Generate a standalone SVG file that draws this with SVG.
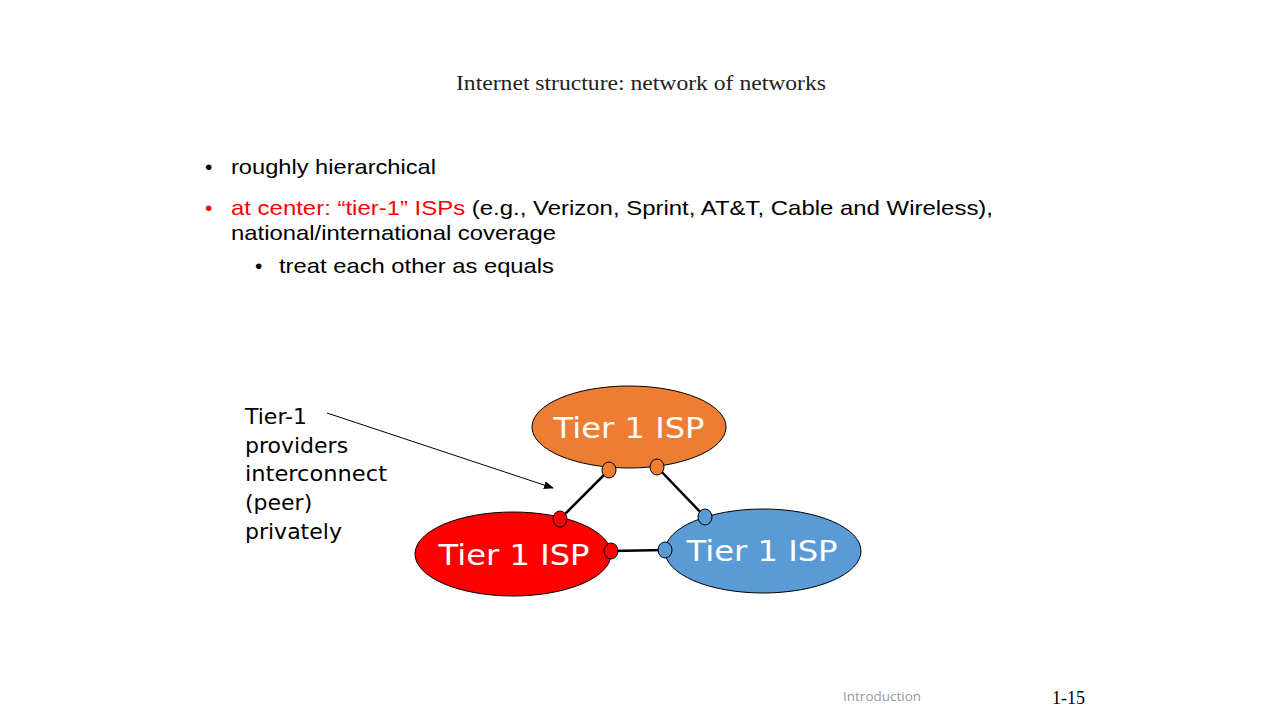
<svg xmlns="http://www.w3.org/2000/svg" width="1280" height="720" viewBox="0 0 1280 720">
<style>
.t{font-family:"Liberation Sans",Arial,sans-serif;font-size:21px;fill:#000}
.isp{font-family:"DejaVu Sans",sans-serif;font-size:29px;fill:#fff;text-anchor:middle}
.lbl{font-family:"DejaVu Sans",sans-serif;font-size:22px;fill:#000}
.ln{stroke:#000;stroke-width:2.5;fill:none}
</style>
<defs>
<marker id="ah" markerWidth="10" markerHeight="8" refX="9" refY="4" orient="auto" markerUnits="userSpaceOnUse">
<path d="M0,0 L10,4 L0,8 z" fill="#000"/>
</marker>
</defs>
<rect width="1280" height="720" fill="#fff"/>
<text x="456" y="90" textLength="370" lengthAdjust="spacingAndGlyphs" style="font-family:'Liberation Serif',serif;font-size:20px;fill:#222">Internet structure: network of networks</text>
<text class="t" x="205" y="174">•</text><text class="t" x="231" y="174" textLength="205" lengthAdjust="spacingAndGlyphs">roughly hierarchical</text>
<text class="t" x="205" y="215" style="fill:#f00">•</text>
<text class="t" x="231" y="215" textLength="762" lengthAdjust="spacingAndGlyphs"><tspan style="fill:#f00">at center: “tier-1” ISPs</tspan> (e.g., Verizon, Sprint, AT&amp;T, Cable and Wireless),</text>
<text class="t" x="231" y="240" textLength="325" lengthAdjust="spacingAndGlyphs">national/international  coverage</text>
<text class="t" x="255" y="273">•</text><text class="t" x="279" y="273" textLength="275" lengthAdjust="spacingAndGlyphs">treat each other as equals</text>
<g id="connectors">
<line class="ln" x1="609" y1="470" x2="560" y2="519"/>
<line class="ln" x1="657" y1="467" x2="705" y2="517"/>
<line class="ln" x1="611" y1="551" x2="665" y2="550"/>
<line x1="327" y1="413" x2="553" y2="488" stroke="#000" stroke-width="1" marker-end="url(#ah)"/>
</g>
<g id="isp-orange">
<ellipse cx="629" cy="427" rx="97" ry="41" fill="#ED7D31" stroke="#000" stroke-width="1"/>
<text class="isp" x="629" y="438" textLength="151" lengthAdjust="spacingAndGlyphs">Tier 1 ISP</text>
<ellipse cx="609" cy="470" rx="7" ry="8" fill="#ED7D31" stroke="#000" stroke-width="1"/>
<ellipse cx="657" cy="467" rx="7" ry="8" fill="#ED7D31" stroke="#000" stroke-width="1"/>
</g>
<g id="isp-red">
<ellipse cx="513" cy="554" rx="98" ry="42" fill="#f00" stroke="#000" stroke-width="1"/>
<text class="isp" x="514" y="565" textLength="151" lengthAdjust="spacingAndGlyphs">Tier 1 ISP</text>
<ellipse cx="560" cy="519" rx="7" ry="8" fill="#f00" stroke="#000" stroke-width="1"/>
<ellipse cx="611" cy="551" rx="7" ry="8" fill="#f00" stroke="#000" stroke-width="1"/>
</g>
<g id="isp-blue">
<ellipse cx="763" cy="551" rx="98" ry="42" fill="#5B9BD5" stroke="#000" stroke-width="1"/>
<text class="isp" x="762" y="561" textLength="151" lengthAdjust="spacingAndGlyphs">Tier 1 ISP</text>
<ellipse cx="705" cy="517" rx="7" ry="8" fill="#5B9BD5" stroke="#000" stroke-width="1"/>
<ellipse cx="665" cy="550" rx="7" ry="8" fill="#5B9BD5" stroke="#000" stroke-width="1"/>
</g>
<g id="label">
<text class="lbl" x="245" y="424">Tier-1</text>
<text class="lbl" x="245" y="453">providers</text>
<text class="lbl" x="245" y="481" textLength="142" lengthAdjust="spacingAndGlyphs">interconnect</text>
<text class="lbl" x="245" y="510">(peer)</text>
<text class="lbl" x="245" y="539">privately</text>
</g>
<text x="843" y="701" style="font-family:'Open Sans',sans-serif;font-size:13.5px;fill:#999">Introduction</text>
<text x="1052" y="704" style="font-family:'Liberation Serif',serif;font-size:18px;fill:#000">1-15</text>
</svg>
